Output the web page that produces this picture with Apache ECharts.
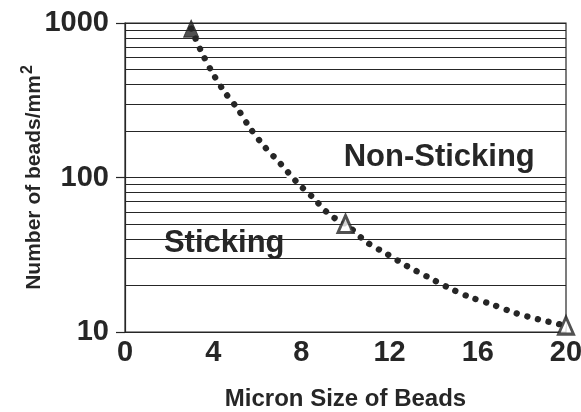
<!DOCTYPE html>
<html>
<head>
<meta charset="utf-8">
<script src="https://cdn.jsdelivr.net/npm/echarts@6/dist/echarts.min.js"></script>
<style>
  html, body { margin: 0; padding: 0; background: #fff; }
  #chart { width: 581px; height: 412px; }
</style>
</head>
<body>
<div id="chart"></div>
<script>
// Measured bead counts per bead size
const beadSizes = [3, 10, 20];
const beadCounts = [920, 50, 11];

// Boundary curve between sticking and non-sticking regions
const curveSizes = [3, 3.45, 3.95, 4.49, 5.12, 5.67, 6.35, 7.03, 7.8, 8.53, 9.3, 10, 10.98, 11.88, 12.79, 13.74, 14.69, 15.65, 16.69, 17.69, 18.73, 20];
const curveCounts = [920, 658, 481, 362, 277, 209, 157, 124, 93, 74, 57, 50, 38, 32, 26.7, 22.7, 19.3, 16.8, 15.0, 13.3, 12.1, 11];

// Axis ticks and log-scale grid lines
const xTicks = [0, 4, 8, 12, 16, 20];
const yTicks = [10, 100, 1000];
const minorGridValues = [20, 30, 40, 50, 60, 70, 80, 90, 200, 300, 400, 500, 600, 700, 800, 900];

const ink = '#262626';
const font = '"Liberation Sans", Arial, Helvetica, sans-serif';

const curveData = curveSizes.map((x, i) => [x, curveCounts[i]]);
const pointData = beadSizes.map((x, i) => ({
  value: [x, beadCounts[i]],
  itemStyle: i === 0
    ? { color: ink, borderColor: ink, borderWidth: 1 }
    : { color: '#fff', borderColor: ink, borderWidth: 3 }
}));

const chart = echarts.init(document.getElementById('chart'), null, { renderer: 'canvas' });
chart.setOption({
  animation: false,
  backgroundColor: '#fff',
  grid: {
    left: 125, top: 23, width: 441, height: 309,
    outerBoundsMode: 'none', containLabel: false,
    show: true, borderColor: ink, borderWidth: 1.2, backgroundColor: 'transparent'
  },
  xAxis: {
    type: 'value',
    min: xTicks[0], max: xTicks[xTicks.length - 1], interval: 4,
    name: 'Micron Size of Beads',
    nameLocation: 'middle', nameGap: 55, nameMoveOverlap: false,
    nameTextStyle: { fontFamily: font, fontWeight: 'bold', fontSize: 24, color: ink },
    axisLine: { show: true, lineStyle: { color: ink, width: 1.2 } },
    axisTick: { show: false },
    splitLine: { show: false },
    axisLabel: { fontFamily: font, fontWeight: 'bold', fontSize: 29, color: ink, margin: 6 }
  },
  yAxis: {
    type: 'log', logBase: 10,
    min: yTicks[0], max: yTicks[yTicks.length - 1],
    name: 'Number of beads/mm{sup|2}',
    nameLocation: 'middle', nameGap: 77, nameRotate: 90, nameMoveOverlap: false,
    nameTextStyle: {
      fontFamily: font, fontWeight: 'bold', fontSize: 21, color: ink,
      rich: { sup: { fontFamily: font, fontWeight: 'bold', fontSize: 16, color: ink, padding: [0, 0, 12, 1] } }
    },
    axisLine: { show: true, lineStyle: { color: ink, width: 1.2 } },
    axisTick: { show: true, length: 9, lineStyle: { color: ink, width: 1.2 } },
    splitLine: { show: true, lineStyle: { color: ink, width: 1.2 } },
    axisLabel: {
      fontFamily: font, fontWeight: 'bold', fontSize: 29, color: ink, margin: 16,
      formatter: v => String(Math.round(v))
    }
  },
  series: [
    {
      // minor horizontal grid lines and region captions
      type: 'line', data: [], silent: true, z: 1,
      markLine: {
        silent: true, symbol: 'none', label: { show: false },
        lineStyle: { color: ink, width: 1.2, type: 'solid' },
        data: minorGridValues.map(v => ({ yAxis: v }))
      },
      markPoint: {
        silent: true, symbol: 'circle', symbolSize: 0,
        label: { show: true, position: 'inside', fontFamily: font, fontWeight: 'bold', fontSize: 31, color: ink },
        data: [
          { coord: [14.25, 135], value: 'Non-Sticking', label: { formatter: 'Non-Sticking' } },
          { coord: [4.5, 37.5], value: 'Sticking', label: { formatter: 'Sticking' } }
        ]
      }
    },
    {
      // white halo that breaks the grid lines under the curve
      type: 'line', data: curveData, smooth: 0.3, symbol: 'none', silent: true, z: 3,
      lineStyle: { color: '#fff', width: 9 }
    },
    {
      type: 'line', data: curveData, smooth: 0.3, symbol: 'none', silent: true, z: 4,
      lineStyle: { color: ink, width: 6.3, type: [0.1, 10.8], cap: 'round' }
    },
    {
      type: 'scatter', data: pointData, symbol: 'triangle', symbolSize: [15, 17], z: 5
    }
  ]
});
</script>
</body>
</html>
